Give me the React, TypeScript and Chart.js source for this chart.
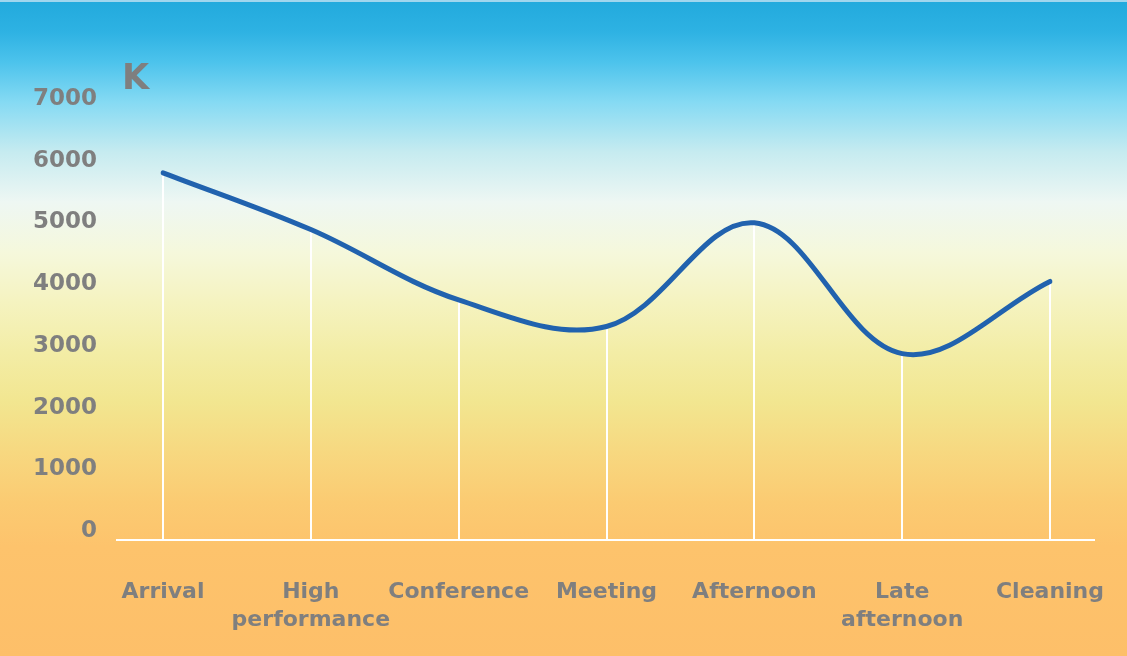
import React, { useEffect, useRef } from "react";
import { Chart, registerables } from "chart.js";

Chart.register(...registerables);

const categories: (string | string[])[] = [
  "Arrival",
  ["High", "performance"],
  "Conference",
  "Meeting",
  "Afternoon",
  ["Late", "afternoon"],
  "Cleaning",
];
const values: number[] = [5950, 5030, 3890, 3460, 5140, 3020, 4190];
const yTicks: number[] = [0, 1000, 2000, 3000, 4000, 5000, 6000, 7000];
const unitLabel = "K";

const FONT = "'DejaVu Sans', Verdana, sans-serif";
const GREY = "#7f7f7f";

const overlayPlugin = {
  id: "overlay",
  beforeDatasetsDraw(chart: any) {
    const { ctx, chartArea } = chart;
    const meta = chart.getDatasetMeta(0);
    ctx.save();
    ctx.strokeStyle = "#ffffff";
    ctx.lineWidth = 2;
    meta.data.forEach((pt: any) => {
      ctx.beginPath();
      ctx.moveTo(Math.round(pt.x), pt.y);
      ctx.lineTo(Math.round(pt.x), chartArea.bottom);
      ctx.stroke();
    });
    ctx.beginPath();
    ctx.moveTo(chartArea.left - 47, chartArea.bottom);
    ctx.lineTo(chartArea.right + 45, chartArea.bottom);
    ctx.stroke();
    ctx.restore();
  },
  afterDraw(chart: any) {
    const { ctx } = chart;
    ctx.save();
    ctx.font = `bold 35px ${FONT}`;
    ctx.fillStyle = GREY;
    ctx.textBaseline = "alphabetic";
    ctx.fillText(unitLabel, 122, 87);
    ctx.restore();
  },
};

export default function App() {
  const canvasRef = useRef<HTMLCanvasElement | null>(null);

  useEffect(() => {
    document.body.style.margin = "0";
    const canvas = canvasRef.current;
    if (!canvas) return;
    const chart = new Chart(canvas, {
      type: "line",
      data: {
        labels: categories as any,
        datasets: [
          {
            data: values,
            borderColor: "#2162ae",
            borderWidth: 5,
            pointRadius: 0,
            tension: 0.36,
            fill: false,
            borderCapStyle: "round",
          } as any,
        ],
      },
      options: {
        animation: false,
        responsive: false,
        layout: { padding: { top: 106, right: 77, left: 0, bottom: 0 } },
        plugins: {
          legend: { display: false },
          tooltip: { enabled: false },
        },
        scales: {
          x: {
            offset: false,
            grid: { display: false },
            border: { display: false },
            ticks: {
              autoSkip: false,
              maxRotation: 0,
              minRotation: 0,
              padding: 30,
              color: GREY,
              font: { family: FONT, size: 22, weight: "bold", lineHeight: 1.27 },
            },
            afterFit(scale: any) {
              scale.height = 116;
              scale.paddingLeft = 0;
              scale.paddingRight = 0;
            },
          },
          y: {
            min: 0,
            max: 7000,
            grid: { display: false },
            border: { display: false },
            afterBuildTicks(scale: any) {
              scale.ticks = yTicks.map((v) => ({ value: v }));
            },
            ticks: {
              stepSize: 1000,
              padding: 58,
              labelOffset: -9,
              color: GREY,
              font: { family: FONT, size: 23, weight: "bold" },
              callback: (v: any) => String(v),
            },
            afterFit(scale: any) {
              scale.width = 163;
              scale.paddingTop = 0;
              scale.paddingBottom = 0;
            },
          },
        },
      } as any,
      plugins: [overlayPlugin],
    });
    return () => chart.destroy();
  }, []);

  return (
    <div
      style={{
        width: 1127,
        height: 656,
        position: "relative",
        borderTop: "2px solid #9fd6ee",
        boxSizing: "border-box",
        background:
          "linear-gradient(to bottom, #22aadd 0px, #2eb2e3 30px, #4cc3ec 60px, #85daf3 100px, #c6ebf0 150px, #eef7f3 200px, #f5f8dc 250px, #f5f3c0 300px, #f3eda6 350px, #f2e690 400px, #f7d880 450px, #fbcb72 500px, #fdc36c 545px, #fdbf69 656px)",
      }}
    >
      <canvas
        ref={canvasRef}
        width={1127}
        height={654}
        style={{ display: "block", width: 1127, height: 654 }}
      />
    </div>
  );
}
